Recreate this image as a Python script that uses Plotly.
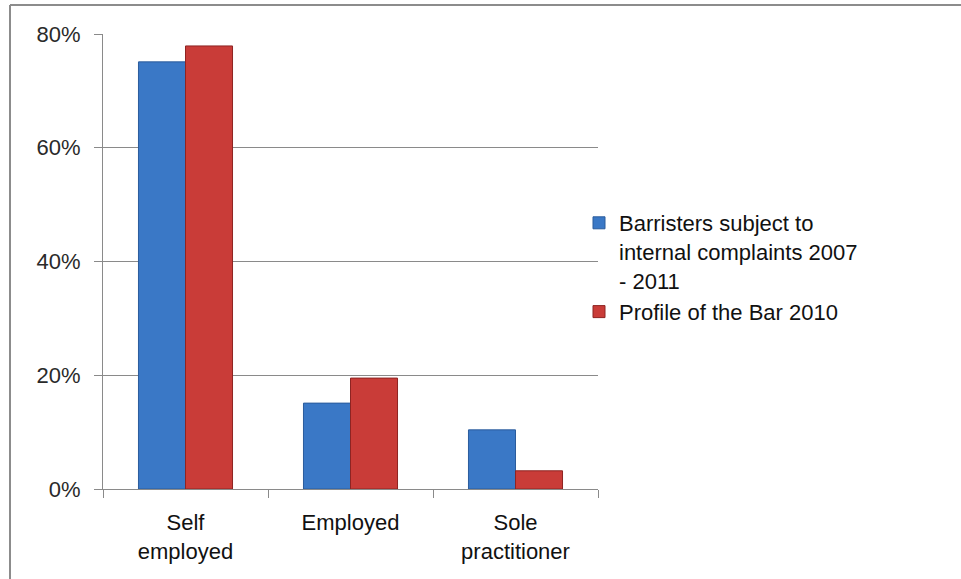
import plotly.graph_objects as go

categories = ["Self<br>employed", "Employed", "Sole<br>practitioner"]
series_names = ["Barristers subject to<br>internal complaints 2007<br>- 2011", "Profile of the Bar 2010"]
complaints = [75.1, 15.1, 10.4]
profile = [77.9, 19.5, 3.2]
y_ticks = [0, 20, 40, 60, 80]
y_tick_labels = ["0%", "20%", "40%", "60%", "80%"]

FONT = "Arial, Liberation Sans, sans-serif"

fig = go.Figure()
fig.add_trace(go.Bar(x=categories, y=complaints, name=series_names[0],
                     marker=dict(color="#3a78c6", line=dict(color="#2b5c9c", width=1))))
fig.add_trace(go.Bar(x=categories, y=profile, name=series_names[1],
                     marker=dict(color="#c93c38", line=dict(color="#8e2422", width=1))))

L, R, T, B = 103, 961 - 598, 34, 579 - 489
W, H = 961, 579
pw, ph = W - L - R, H - T - B

fig.update_layout(
    width=W, height=H,
    margin=dict(l=L, r=R, t=T, b=B, pad=0),
    paper_bgcolor="white", plot_bgcolor="white",
    barmode="group", bargap=0.43, bargroupgap=0,
    font=dict(family=FONT, size=22, color="#111111"),
    showlegend=True,
    legend=dict(x=(599 - 20 - L) / pw, y=(489 - 202) / ph, xanchor="left", yanchor="top",
                font=dict(size=22, color="#111111"), bgcolor="rgba(0,0,0,0)",
                tracegroupgap=0, valign="top"),
    xaxis=dict(showline=True, linecolor="#8a8a8a", linewidth=1,
               ticks="outside", tickson="boundaries", ticklen=8, tickcolor="#8a8a8a",
               tickfont=dict(size=22, color="#111111"), showgrid=False, fixedrange=True,
               ticklabelstandoff=14),
    yaxis=dict(range=[0, 80], tickvals=y_ticks, ticktext=y_tick_labels,
               showline=True, linecolor="#8a8a8a", linewidth=1,
               ticks="outside", ticklen=8, tickcolor="#8a8a8a",
               showgrid=True, gridcolor="#8a8a8a", gridwidth=1, zeroline=False,
               tickfont=dict(size=22, color="#2a2a2a"), ticklabelstandoff=9),
    shapes=[
        dict(type="line", xref="paper", yref="paper",
             x0=(10 - L) / pw, x1=(W + 5 - L) / pw, y0=(489 - 5) / ph, y1=(489 - 5) / ph,
             line=dict(color="#8c8c8c", width=2)),
        dict(type="line", xref="paper", yref="paper",
             x0=(10 - L) / pw, x1=(10 - L) / pw, y0=(489 - 5) / ph, y1=(489 - H - 5) / ph,
             line=dict(color="#8c8c8c", width=2)),
    ],
)

fig.write_html("out.html", config={"displayModeBar": False},
               post_script="document.body.style.margin='0';")
